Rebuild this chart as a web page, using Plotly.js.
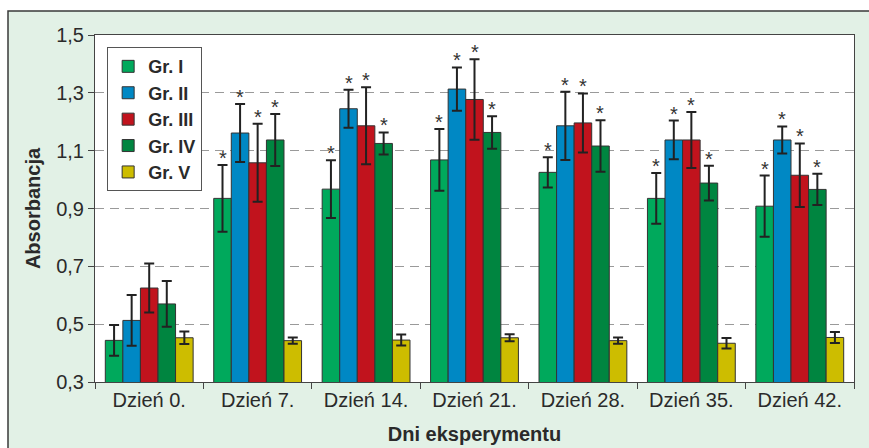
<!DOCTYPE html>
<html>
<head>
<meta charset="utf-8">
<script src="https://cdn.plot.ly/plotly-3.0.1.min.js"></script>
<style>html,body{margin:0;padding:0;background:#fff;}#chart{width:869px;height:448px;}</style>
</head>
<body>
<div id="chart"></div>
<script>
// ---- data ----
const days = ["Dzień 0.", "Dzień 7.", "Dzień 14.", "Dzień 21.", "Dzień 28.", "Dzień 35.", "Dzień 42."];
const groupNames = ["Gr. I", "Gr. II", "Gr. III", "Gr. IV", "Gr. V"];
const grI   = [0.444, 0.935, 0.967, 1.068, 1.025, 0.935, 0.908];
const grII  = [0.513, 1.161, 1.245, 1.313, 1.186, 1.137, 1.137];
const grIII = [0.625, 1.058, 1.186, 1.277, 1.196, 1.137, 1.015];
const grIV  = [0.570, 1.137, 1.125, 1.163, 1.116, 0.988, 0.966];
const grV   = [0.453, 0.443, 0.445, 0.453, 0.443, 0.434, 0.454];
const errI   = [0.053, 0.115, 0.100, 0.107, 0.052, 0.088, 0.106];
const errII  = [0.088, 0.100, 0.066, 0.075, 0.118, 0.067, 0.047];
const errIII = [0.085, 0.135, 0.133, 0.139, 0.102, 0.097, 0.110];
const errIV  = [0.079, 0.090, 0.038, 0.056, 0.089, 0.060, 0.054];
const errV   = [0.022, 0.011, 0.019, 0.012, 0.011, 0.018, 0.019];
// significance marks (*) per group and day
const sigI   = [0, 1, 1, 1, 1, 1, 1];
const sigII  = [0, 1, 1, 1, 1, 1, 1];
const sigIII = [0, 1, 1, 1, 1, 1, 1];
const sigIV  = [0, 1, 1, 1, 1, 1, 1];
const sigV   = [0, 0, 0, 0, 0, 0, 0];
const yTicks = [0.3, 0.5, 0.7, 0.9, 1.1, 1.3, 1.5];

const values = [grI, grII, grIII, grIV, grV];
const errors = [errI, errII, errIII, errIV, errV];
const sigs = [sigI, sigII, sigIII, sigIV, sigV];
const colors = ["#00a95c", "#0088c4", "#c1131d", "#008540", "#cdbd00"];

const traces = values.map((v, g) => ({
  type: "bar",
  name: groupNames[g],
  x: days,
  y: v,
  marker: {color: colors[g], line: {color: "#333", width: 1}},
  error_y: {type: "data", array: errors[g], visible: true, color: "#222", thickness: 2, width: 5}
}));

// geometry for star placement
const W = 869, H = 448, mL = 95, mR = 15, mT = 35, mB = 66;
const bargap = 0.19;
const catW = (W - mL - mR) / days.length;
const barW = catW * (1 - bargap) / groupNames.length;

const annotations = [];
sigs.forEach((s, g) => {
  s.forEach((flag, d) => {
    if (flag) {
      annotations.push({
        x: days[d], y: values[g][d] + errors[g][d], xref: "x", yref: "y",
        text: "*", showarrow: false, xanchor: "center", yanchor: "bottom",
        xshift: (g - 2) * barW, yshift: -6,
        font: {family: "Liberation Sans, Arial, sans-serif", size: 20, color: "#333"}
      });
    }
  });
});

const layout = {
  width: W, height: H,
  margin: {l: mL, r: mR, t: mT, b: mB, pad: 0},
  paper_bgcolor: "#ffffff",
  plot_bgcolor: "#ffffff",
  separators: ", ",
  barmode: "group",
  bargap: bargap,
  bargroupgap: 0,
  font: {family: "Liberation Sans, Arial, sans-serif", color: "#2a2a2a"},
  showlegend: true,
  legend: {
    x: 0.016, y: 0.965, xanchor: "left", yanchor: "top",
    bgcolor: "#ffffff", bordercolor: "#555", borderwidth: 1,
    font: {size: 18, color: "#2a2a2a", weight: "bold"},
    itemwidth: 30, tracegroupgap: 0
  },
  xaxis: {
    type: "category",
    showline: true, linecolor: "#444", linewidth: 1, mirror: true,
    ticks: "outside", ticklen: 6, tickcolor: "#444", tickson: "boundaries",
    tickfont: {size: 20, color: "#2a2a2a"},
    title: {text: "Dni eksperymentu", font: {size: 20, weight: "bold", color: "#2a2a2a"}, standoff: 16},
    showgrid: false
  },
  yaxis: {
    range: [0.3, 1.5],
    tickvals: yTicks, tickformat: ".1f",
    showline: true, linecolor: "#444", linewidth: 1, mirror: true,
    ticks: "outside", ticklen: 6, tickcolor: "#444",
    tickfont: {size: 20, color: "#2a2a2a"},
    showgrid: true, gridcolor: "#9a9a9a", gridwidth: 1, griddash: "9px,6px",
    zeroline: false,
    title: {text: "Absorbancja", font: {size: 20, weight: "bold", color: "#2a2a2a"}, standoff: 10}
  },
  shapes: [
    {type: "rect", xref: "paper", yref: "paper", layer: "below",
     x0: (8 - mL) / (W - mL - mR), x1: 1.1, y0: -0.3, y1: (H - mB - 11) / (H - mT - mB),
     fillcolor: "#e2f1e6", line: {color: "#3a3a3a", width: 1.5}},
    {type: "rect", xref: "paper", yref: "paper", layer: "below",
     x0: 0, x1: 1, y0: 0, y1: 1, fillcolor: "#ffffff", line: {width: 0}}
  ],
  annotations: annotations
};

Plotly.newPlot("chart", traces, layout, {displayModeBar: false, staticPlot: true});
</script>
</body>
</html>
